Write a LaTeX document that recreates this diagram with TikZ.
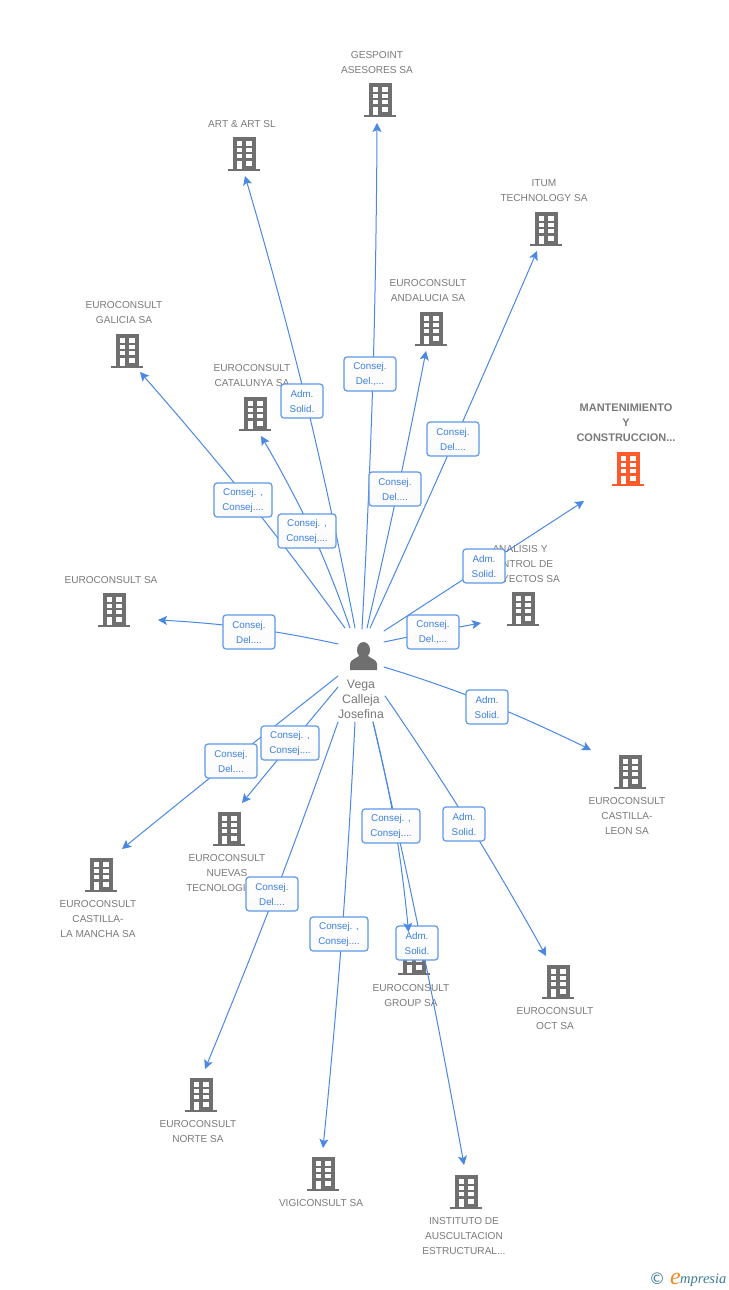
\documentclass[tikz,border=0pt]{standalone}
\usepackage{fontspec}
\setmainfont{Liberation Sans}
\newfontfamily\djv{DejaVu Sans}
\newfontfamily\logof{Liberation Serif}
\usetikzlibrary{arrows.meta,backgrounds}
\definecolor{linkblue}{HTML}{4A88E4}
\definecolor{boxblue}{HTML}{5F98E8}
\definecolor{textblue}{HTML}{3C7FE2}
\definecolor{iconGray}{HTML}{6F6F6F}
\definecolor{capGray}{HTML}{7A7A7A}
\definecolor{hotOrange}{HTML}{FF5A2C}
\definecolor{logoTeal}{HTML}{3F7C98}
\definecolor{logoOrange}{HTML}{F08A24}
\pgfdeclarelayer{front}
\pgfsetlayers{main,front}
\tikzset{
  captxt/.style={font=\fontsize{10.1}{15}\selectfont,text=capGray,align=center,inner sep=0pt},
  hotcap/.style={captxt,font=\fontsize{11}{15}\bfseries\selectfont},
  lbl/.style={draw=boxblue,line width=1.2pt,rounded corners=3pt,top color=white,bottom color=black!2,
    text=textblue,font=\fontsize{9.8}{15}\selectfont,align=center,inner sep=0pt,minimum height=34pt},
  lblA/.style={lbl,minimum width=42pt},
  lblB/.style={lbl,minimum width=52pt},
  lblC/.style={lbl,minimum width=58pt},
  conn/.style={draw=linkblue,line width=1pt,-{Stealth[length=9pt,width=9pt,inset=2pt]},line cap=round},
  iconbox/.style={inner sep=0pt,minimum width=32pt,minimum height=34pt},
}
\newcommand{\bld}[4]{%
  \node[iconbox] (#1) at (#2,#3) {};
  \begin{scope}[shift={(#2,#3)}]
    \fill[#4] (-11.5,-17) rectangle (11.5,15);
    \fill[#4] (-16,14.5) rectangle (16,17);
    \fill[white] (-7.5,-13) rectangle (-2.5,-8.5);
    \fill[white] (2,-13) rectangle (7.5,-8.5);
    \fill[white] (-7.5,-6) rectangle (-2.5,-2);
    \fill[white] (2,-6) rectangle (7.5,-2);
    \fill[white] (-7.5,0) rectangle (-2.5,4);
    \fill[white] (2,0) rectangle (7.5,4);
    \fill[white] (-7.5,7) rectangle (-2.5,15);
    \fill[white] (2,7) rectangle (7.5,12);
  \end{scope}}
% start, label, dx, dy through the label, end
\newcommand{\conn}[5]{\draw[conn] plot[smooth,tension=0.9] coordinates {(#1) ([xshift=#3pt,yshift=#4pt]#2) (#5)};}
\begin{document}
\begin{tikzpicture}[x=1pt,y=-1pt]
\useasboundingbox (0,0) rectangle (728,1290);
\fill[white] (0,0) rectangle (728,1290);
% buildings
\bld{iGes}{380}{100}{iconGray}
\bld{iArt}{244}{154}{iconGray}
\bld{iItum}{546}{229}{iconGray}
\bld{iAnd}{431}{329}{iconGray}
\bld{iGal}{127}{351}{iconGray}
\bld{iCat}{255}{414}{iconGray}
\bld{iMan}{628}{469}{hotOrange}
\bld{iAna}{523}{609}{iconGray}
\bld{iSa}{114}{610}{iconGray}
\bld{iLeon}{630}{772}{iconGray}
\bld{iNue}{229}{829}{iconGray}
\bld{iMan2}{101}{875}{iconGray}
\bld{iOct}{558}{982}{iconGray}
\bld{iGrp}{414}{958}{iconGray}
\bld{iNor}{201}{1095}{iconGray}
\bld{iVig}{323}{1174}{iconGray}
\bld{iIns}{466}{1192}{iconGray}
% captions
\node[captxt] (cGes) at (377,62.5) {GESPOINT\\ASESORES SA};
\node[captxt] (cArt) at (242,124) {ART \& ART SL};
\node[captxt] (cItum) at (544,191) {ITUM\\TECHNOLOGY SA};
\node[captxt] (cAnd) at (428,291) {EUROCONSULT\\ANDALUCIA SA};
\node[captxt] (cGal) at (124,313) {EUROCONSULT\\GALICIA SA};
\node[captxt] (cCat) at (252,376) {EUROCONSULT\\CATALUNYA SA};
\node[hotcap] (cMan) at (626,422.5) {MANTENIMIENTO\\Y\\CONSTRUCCION...};
\node[captxt] (cAna) at (520,564) {ANALISIS Y\\CONTROL DE\\PROYECTOS SA};
\node[captxt] (cSa) at (111,580) {EUROCONSULT SA};
\node[captxt] (cLeon) at (627,816.5) {EUROCONSULT\\CASTILLA-\\LEON SA};
\node[captxt] (cNue) at (227,873.5) {EUROCONSULT\\NUEVAS\\TECNOLOGIAS...};
\node[captxt] (cMan2) at (98,919.5) {EUROCONSULT\\CASTILLA-\\LA MANCHA SA};
\node[captxt] (cOct) at (555,1018.5) {EUROCONSULT\\OCT SA};
\node[captxt] (cGrp) at (411,995.5) {EUROCONSULT\\GROUP SA};
\node[captxt] (cNor) at (198,1131.5) {EUROCONSULT\\NORTE SA};
\node[captxt] (cVig) at (321,1203.5) {VIGICONSULT SA};
\node[captxt] (cIns) at (464,1236.5) {INSTITUTO DE\\AUSCULTACION\\ESTRUCTURAL...};
% person
\node[iconbox,minimum width=28pt,minimum height=28pt] (person) at (364,656) {};
\fill[iconGray] (363.5,650) ellipse (6.5 and 8);
\fill[iconGray] (350,670) -- (350,664) .. controls (350,660) and (355,659) .. (359,656) -- (368,656)
  .. controls (372,659) and (377,660) .. (377,664) -- (377,670) -- cycle;
\node[captxt,font=\fontsize{12.3}{15}\selectfont] (cPer) at (361,699) {Vega\\Calleja\\Josefina};
% connector ends
\coordinate (s1) at (362,629);   \coordinate (e1) at (377,123);
\coordinate (s2) at (355,628);   \coordinate (e2) at (245,176);
\coordinate (s3) at (370,628);   \coordinate (e3) at (537,251);
\coordinate (s4) at (367,628);   \coordinate (e4) at (426,351);
\coordinate (s5) at (345,628);   \coordinate (e5) at (140,372);
\coordinate (s6) at (350,628);   \coordinate (e6) at (261,436);
\coordinate (s7) at (384,631);   \coordinate (e7) at (584,501);
\coordinate (s8) at (384,642);   \coordinate (e8) at (481,623);
\coordinate (s9) at (338,644);   \coordinate (e9) at (158,620);
\coordinate (s10) at (384,667);  \coordinate (e10) at (591,750);
\coordinate (s11) at (385,696);  \coordinate (e11) at (546,956);
\coordinate (s12) at (373,722);  \coordinate (e12) at (464,1165);
\coordinate (s13) at (373,722);  \coordinate (e13) at (408.5,932);
\coordinate (s14) at (355,722);  \coordinate (e14) at (323,1148);
\coordinate (s15) at (338,722);  \coordinate (e15) at (205,1069);
\coordinate (s16) at (338,687);  \coordinate (e16) at (242,803);
\coordinate (s17) at (338,676);  \coordinate (e17) at (122,849);
\coordinate (v13) at (395,826);
% labels; the arrowhead of the GROUP link lies over its neighbour label
\begin{pgfonlayer}{front}
\node[lblA] (t12) at (417,943) {Adm.\\Solid.};
\conn{s13}{v13}{0}{0}{e13}
\node[lblB] (t1) at (370,374) {Consej.\\Del.,...};
\node[lblA] (t2) at (302,401) {Adm.\\Solid.};
\node[lblB] (t3) at (453,439) {Consej.\\Del....};
\node[lblB] (t4) at (395,489) {Consej.\\Del....};
\node[lblC] (t5) at (243,500) {Consej. ,\\Consej....};
\node[lblC] (t6) at (307,531) {Consej. ,\\Consej....};
\node[lblA] (t7) at (484,566) {Adm.\\Solid.};
\node[lblB] (t8) at (433,632) {Consej.\\Del.,...};
\node[lblB] (t9) at (249,632) {Consej.\\Del....};
\node[lblA] (t10) at (487,707) {Adm.\\Solid.};
\node[lblA] (t11) at (464,824) {Adm.\\Solid.};
\node[lblC] (t13) at (391,826) {Consej. ,\\Consej....};
\node[lblC] (t14) at (339,934) {Consej. ,\\Consej....};
\node[lblB] (t15) at (272,894) {Consej.\\Del....};
\node[lblC] (t16) at (290,743) {Consej. ,\\Consej....};
\node[lblB] (t17) at (231,761) {Consej.\\Del....};
\end{pgfonlayer}
\conn{s1}{t1}{3}{0}{e1}
\conn{s2}{t2}{4}{0}{e2}
\conn{s3}{t3}{2}{0}{e3}
\conn{s4}{t4}{3}{0}{e4}
\conn{s5}{t5}{5}{0}{e5}
\conn{s6}{t6}{4.5}{0}{e6}
\conn{s7}{t7}{0}{0}{e7}
\conn{s8}{t8}{0}{0}{e8}
\conn{s9}{t9}{0}{4}{e9}
\conn{s10}{t10}{0}{4}{e10}
\conn{s11}{t11}{5}{0}{e11}
\conn{s12}{t12}{4.5}{0}{e12}
\conn{s14}{t14}{3}{0}{e14}
\conn{s15}{t15}{3}{0}{e15}
\conn{s16}{t16}{1.5}{0}{e16}
\conn{s17}{t17}{0}{0}{e17}
% logo
\node[inner sep=0pt,text=logoTeal,font=\djv\fontsize{16}{16}\selectfont] (lc) at (657,1279) {©};
\node[inner sep=0pt,anchor=base west,text=logoTeal,font=\logof\itshape\fontsize{14.5}{14}\selectfont] (lm) at (680,1283) {mpresia};
\node[inner sep=0pt,anchor=base east,text=logoOrange,font=\logof\itshape\fontsize{24}{24}\selectfont] (le) at (681,1284) {e};
\end{tikzpicture}
\end{document}
